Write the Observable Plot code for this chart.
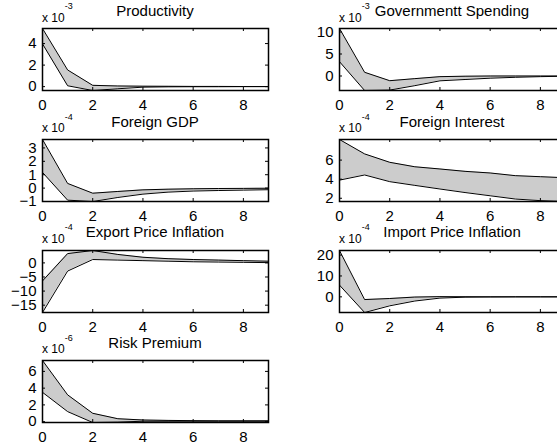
<!DOCTYPE html>
<html>
<head>
<meta charset="utf-8">
<script src="https://cdn.jsdelivr.net/npm/d3@7"></script>
<script src="https://cdn.jsdelivr.net/npm/@observablehq/plot@0.6"></script>
<style>
  html, body { margin: 0; padding: 0; background: #fff; }
  #chart { position: relative; width: 557px; height: 448px; overflow: hidden; background: #fff;
           font-family: "Liberation Sans", Arial, sans-serif; }
  .panel { position: absolute; }
  .panel svg { max-width: none; display: block; }
  .title { position: absolute; text-align: center; font-size: 15px; line-height: 15px; white-space: nowrap; color: #000; }
  .expo { position: absolute; font-size: 12px; line-height: 12px; white-space: nowrap; color: #000; }
  .expo span { font-size: 9px; position: relative; top: -12.5px; }
</style>
</head>
<body>
<div id="chart"></div>
<script>
// Horizon (periods)
const periods = [0, 1, 2, 3, 4, 5, 6, 7, 8, 9];
const xTicks = [0, 2, 4, 6, 8];

// Panel titles, exponents and y ticks
const titles = ["Productivity", "Governmentt Spending", "Foreign GDP", "Foreign Interest",
                "Export Price Inflation", "Import Price Inflation", "Risk Premium"];
const exponents = ["-3", "-3", "-4", "-4", "-4", "-4", "-6"];
const yTicksList = [[0, 2, 4], [0, 5, 10], [-1, 0, 1, 2, 3], [2, 4, 6],
                    [-15, -10, -5, 0], [0, 10, 20], [0, 2, 4, 6]];

// Band values (in units of the panel exponent)
const productivityUpper = [5.4, 1.55, 0.12, 0.06, 0.04, 0.03, 0.02, 0.02, 0.01, 0.01];
const productivityLower = [3.97, 0.08, -0.36, -0.2, -0.05, -0.02, -0.01, -0.01, 0, 0];

const govUpper = [10.8, 0.84, -1.07, -0.6, -0.15, -0.05, 0, 0, 0, 0];
const govLower = [3.25, -3.3, -3.2, -2.2, -1.1, -0.8, -0.5, -0.3, -0.15, -0.05];

const foreignGdpUpper = [3.63, 0.35, -0.38, -0.25, -0.13, -0.08, -0.05, -0.03, -0.02, -0.01];
const foreignGdpLower = [1.17, -0.9, -1.0, -0.7, -0.45, -0.3, -0.22, -0.18, -0.15, -0.12];

const foreignInterestUpper = [8.16, 6.65, 5.77, 5.3, 5.07, 4.82, 4.65, 4.37, 4.26, 4.15];
const foreignInterestLower = [3.9, 4.44, 3.74, 3.35, 2.97, 2.6, 2.26, 1.92, 1.75, 1.66];

const exportInflUpper = [-6.4, 3.3, 4.4, 3.0, 2.0, 1.5, 1.2, 1.0, 0.8, 0.6];
const exportInflLower = [-17.6, -2.9, 1.2, 1.0, 0.8, 0.6, 0.4, 0.3, 0.2, 0.1];

const importInflUpper = [22.2, -1.3, -0.8, -0.1, 0.1, 0.05, 0, 0, 0, 0];
const importInflLower = [5.6, -7.5, -4.3, -2.0, -0.6, -0.15, -0.05, 0, 0, 0];

const riskUpper = [7.3, 3.2, 1.0, 0.35, 0.2, 0.15, 0.12, 0.1, 0.1, 0.1];
const riskLower = [3.5, 1.2, -0.1, -0.05, 0.05, 0.05, 0.05, 0.05, 0.05, 0.05];

const uppers = [productivityUpper, govUpper, foreignGdpUpper, foreignInterestUpper,
                exportInflUpper, importInflUpper, riskUpper];
const lowers = [productivityLower, govLower, foreignGdpLower, foreignInterestLower,
                exportInflLower, importInflLower, riskLower];

// Layout
const boxW = 226, boxH = 62;
const mL = 42, mR = 12, mT = 28, mB = 25;
const colLeft = [0, 297];
const rowTop0 = 28.3, rowStep = 110.6;

const chart = document.getElementById("chart");

titles.forEach((title, i) => {
  const col = i % 2, row = Math.floor(i / 2);
  const boxTop = rowTop0 + row * rowStep;
  const left = colLeft[col];
  const data = periods.map((t, k) => ({t, hi: uppers[i][k], lo: lowers[i][k]}));
  const yMin = d3.min(lowers[i]), yMax = d3.max(uppers[i]);
  const yTicks = yTicksList[i];

  const plot = Plot.plot({
    width: mL + boxW + mR,
    height: mT + boxH + mB,
    marginLeft: mL, marginRight: mR, marginTop: mT, marginBottom: mB,
    style: {fontFamily: '"Liberation Sans", Arial, sans-serif', fontSize: "15px",
            background: "transparent", color: "black", overflow: "visible"},
    x: {domain: [0, 9], ticks: xTicks, tickSize: 0, tickPadding: 9, label: null, tickFormat: d3.format("d")},
    y: {domain: [yMin, yMax], ticks: yTicks, tickSize: 0, tickPadding: 6, label: null, tickFormat: d3.format("d")},
    marks: [
      Plot.areaY(data, {x: "t", y1: "lo", y2: "hi", fill: "#cccccc", clip: true}),
      Plot.lineY(data, {x: "t", y: "hi", stroke: "black", strokeWidth: 1, clip: true}),
      Plot.lineY(data, {x: "t", y: "lo", stroke: "black", strokeWidth: 1, clip: true}),
      Plot.tickX(xTicks, {x: d => d, insetTop: boxH - 3, stroke: "black"}),
      Plot.tickX(xTicks, {x: d => d, insetBottom: boxH - 3, stroke: "black"}),
      Plot.tickY(yTicks, {y: d => d, insetRight: boxW - 3, stroke: "black"}),
      Plot.tickY(yTicks, {y: d => d, insetLeft: boxW - 3, stroke: "black"}),
      Plot.frame({stroke: "black", strokeWidth: 1.5})
    ]
  });

  const wrap = document.createElement("div");
  wrap.className = "panel";
  wrap.style.left = left + "px";
  wrap.style.top = (boxTop - mT) + "px";
  wrap.style.width = (mL + boxW + mR) + "px";
  wrap.style.height = (mT + boxH + mB) + "px";
  wrap.appendChild(plot);
  chart.appendChild(wrap);

  const ex = document.createElement("div");
  ex.className = "expo";
  ex.style.left = (left + mL) + "px";
  ex.style.top = (boxTop - 6.6 - 10.2) + "px";
  ex.innerHTML = "x 10<span>" + exponents[i] + "</span>";
  chart.appendChild(ex);

  const ti = document.createElement("div");
  ti.className = "title";
  ti.style.left = (left + mL) + "px";
  ti.style.width = boxW + "px";
  ti.style.top = (boxTop - 12.6 - 12.7) + "px";
  ti.textContent = title;
  chart.appendChild(ti);
});
</script>
</body>
</html>
